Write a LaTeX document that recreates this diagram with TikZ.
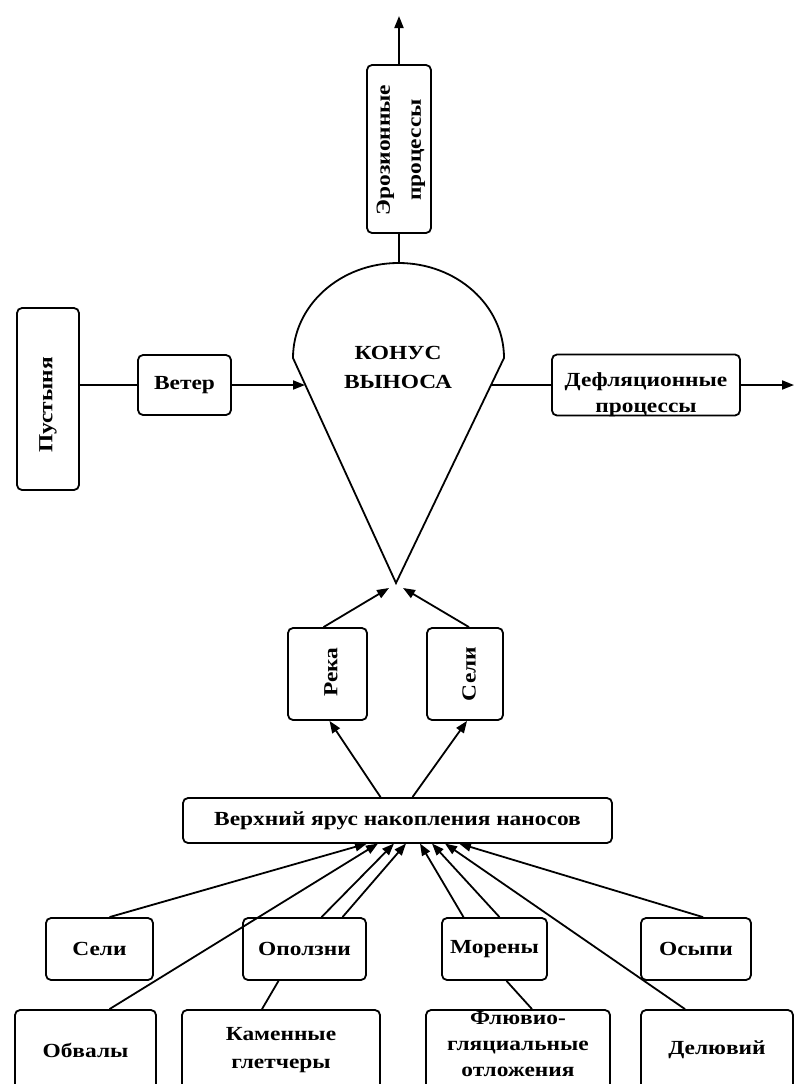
\documentclass[tikz,border=0pt]{standalone}
\usepackage{fontspec}
\setmainfont{Liberation Serif}[FakeStretch=1.17]
\usetikzlibrary{arrows.meta,calc}
\begin{document}
\begin{tikzpicture}[x=1pt,y=-1pt,
  lbl/.style={font=\bfseries\fontsize{20}{28}\selectfont, align=center},
  box/.style={draw, line width=1.8pt, rounded corners=5pt, inner sep=0pt, lbl},
  txt/.style={inner sep=0pt, lbl},
  con/.style={line width=1.8pt},
  arr/.style={con, -{Triangle[length=12pt,width=9pt]}},
]
\useasboundingbox (0,0) rectangle (795,1084);
\clip (0,0) rectangle (795,1084);

% ---- top part
\node[box, minimum width=64pt, minimum height=168pt] (ero) at (399,149) {};
\node[txt, rotate=90, font=\bfseries\fontsize{20}{31}\selectfont] (eroT) at (401,150) {Эрозионные\\процессы};
\coordinate (topEnd) at (399,16);
\coordinate (tdTop) at (399,263);
\draw[arr] (ero.north) -- (topEnd);
\draw[con] (ero.south) -- (tdTop);

% ---- teardrop (cone)
\draw[con] (396,583) -- (293,358)
   .. controls (293,305.5) and (340.2,263) .. (398.5,263)
   .. controls (456.8,263) and (504,305.5) .. (504,358) -- cycle;
\node[txt, font=\bfseries\fontsize{20}{29}\selectfont] (kon) at (398,367) {КОНУС\\ВЫНОСА};
\coordinate (tdL) at (305,385);
\coordinate (tdR) at (491,385);
\coordinate (tipL) at (389,588);
\coordinate (tipR) at (403,588);

% ---- left: desert and wind
\node[box, minimum width=62pt, minimum height=182pt] (pus) at (48,399) {};
\node[txt, rotate=90] (pusT) at (48,405) {Пустыня};
\node[box, minimum width=93pt, minimum height=60pt] (vet) at (184.5,385) {Ветер};
\draw[con] (pus.east |- vet.west) -- (vet.west);
\draw[arr] (vet.east) -- (tdL);

% ---- right: deflation
\node[box, minimum width=188pt, minimum height=61pt] (def) at (646,385) {};
\node[txt, font=\bfseries\fontsize{20}{26}\selectfont] (defT) at (646,395) {Дефляционные\\процессы};
\coordinate (rEnd) at (794,385);
\draw[con] (tdR) -- (def.west);
\draw[arr] (def.east) -- (rEnd);

% ---- river and mudflows
\node[box, minimum width=79pt, minimum height=92pt] (reka) at (327.5,674) {};
\node[txt, rotate=90] (rekaT) at (331,672) {Река};
\node[box, minimum width=76pt, minimum height=92pt] (seliM) at (465,674) {};
\node[txt, rotate=90] (seliMT) at (469,674) {Сели};
\draw[arr] ($(reka.north)+(-4,0)$) -- (tipL);
\draw[arr] ($(seliM.north)+(4,0)$) -- (tipR);

% ---- upper accumulation tier
\node[box, minimum width=429pt, minimum height=45pt] (verh) at (397.5,820.5) {Верхний ярус накопления наносов};
\draw[arr] ($(verh.north)+(-17,0)$) -- ($(reka.south)+(2,0)$);
\draw[arr] ($(verh.north)+(15,0)$) -- ($(seliM.south)+(2,0)$);

% ---- bottom rows
\node[box, minimum width=107pt, minimum height=62pt] (seli) at (99.5,949) {Сели};
\node[box, minimum width=123pt, minimum height=62pt] (opo) at (304.5,949) {Оползни};
\node[box, minimum width=105pt, minimum height=62pt] (mor) at (494.5,949) {Морены};
\node[box, minimum width=110pt, minimum height=62pt] (osy) at (696,949) {Осыпи};

\node[box, minimum width=141pt, minimum height=80pt] (obv) at (85.5,1050) {Обвалы};
\node[box, minimum width=198pt, minimum height=80pt] (kam) at (281,1050) {Каменные\\глетчеры};
\node[box, minimum width=184pt, minimum height=80pt] (flu) at (518,1050) {};
\node[txt, font=\bfseries\fontsize{20}{26}\selectfont] (fluT) at (518,1044) {Флювио-\\гляциальные\\отложения};
\node[box, minimum width=152pt, minimum height=80pt] (del) at (717,1050) {Делювий};

\coordinate (v1) at (367,843.5);
\coordinate (v2) at (378,843.5);
\coordinate (v3) at (394,843.5);
\coordinate (v4) at (406,843.5);
\coordinate (v5) at (420,843.5);
\coordinate (v6) at (432,843.5);
\coordinate (v7) at (445,843.5);
\coordinate (v8) at (459,843.5);

\draw[arr] ($(seli.north)+(10,0)$) -- (v1);
\draw[arr] ($(obv.north)+(24,0)$) -- (v2);
\draw[arr] ($(opo.north)+(17,0)$) -- (v3);
\draw[arr] ($(opo.north)+(38,0)$) -- (v4);
\draw[arr] ($(mor.north)+(-31,0)$) -- (v5);
\draw[arr] ($(mor.north)+(5,0)$) -- (v6);
\draw[arr] ($(del.north)+(-32,0)$) -- (v7);
\draw[arr] ($(osy.north)+(7,0)$) -- (v8);

\draw[con] ($(kam.north)+(-19,0)$) -- ($(opo.south)+(-26,0)$);
\draw[con] ($(flu.north)+(14,0)$) -- ($(mor.south)+(12,0)$);
\end{tikzpicture}
\end{document}
